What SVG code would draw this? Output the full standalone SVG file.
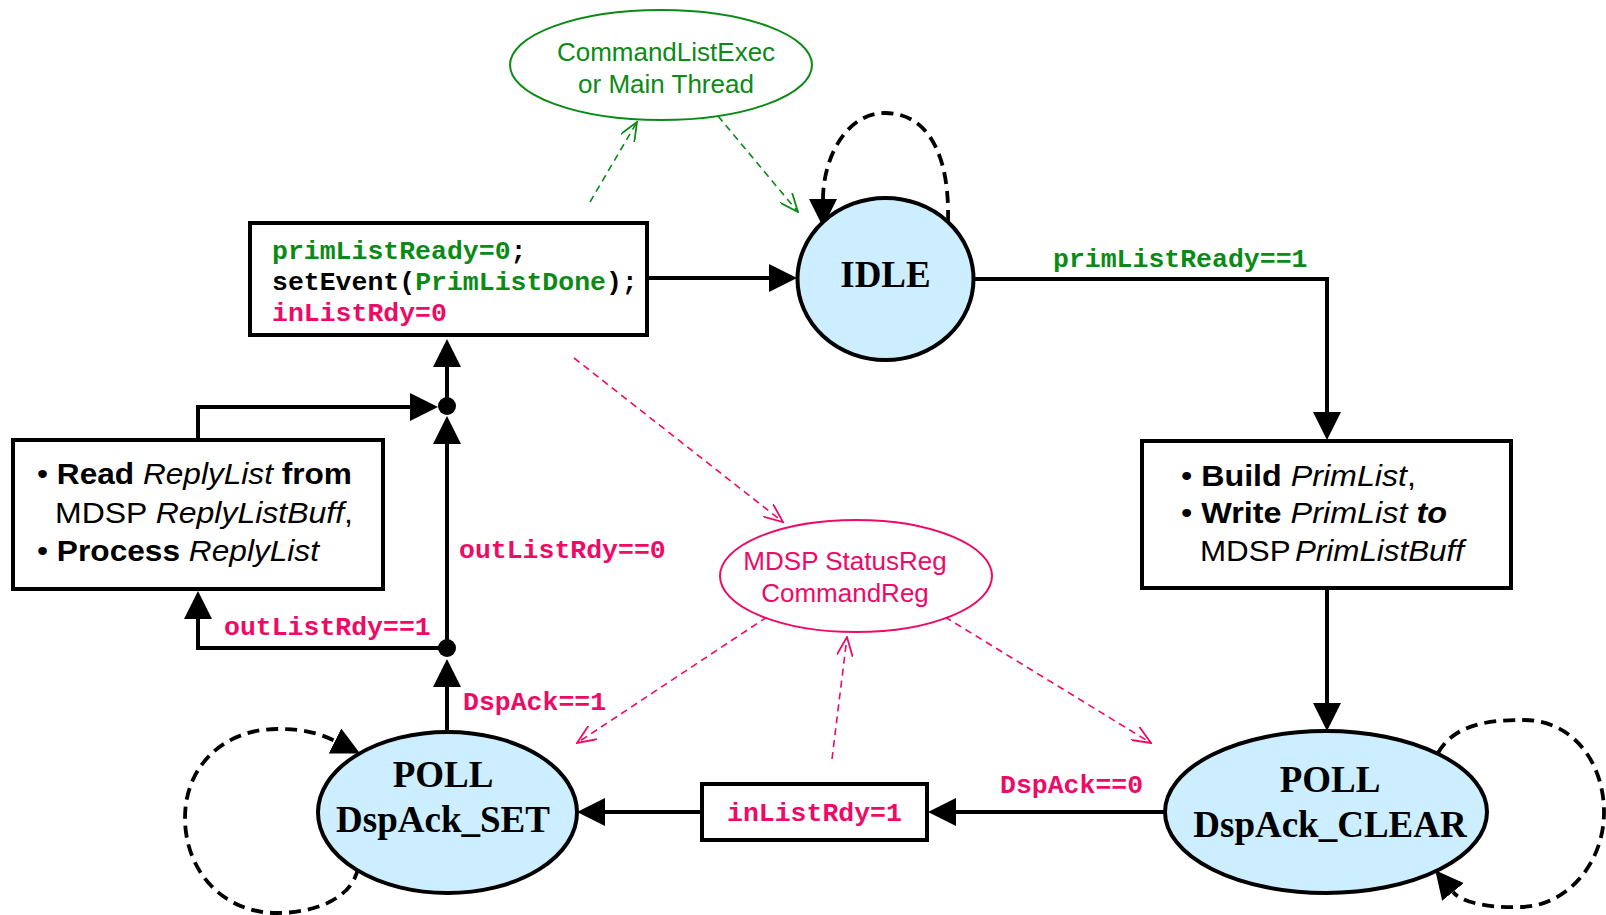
<svg xmlns="http://www.w3.org/2000/svg" width="1606" height="915" viewBox="0 0 1606 915">
  <style>
    .bg { fill: #ffffff; }
    .box { fill: #ffffff; stroke: #000000; stroke-width: 4; }
    .state { fill: #cdeeff; stroke: #000000; stroke-width: 4; }
    .note-g { fill: #ffffff; stroke: #0b8a16; stroke-width: 2; }
    .note-p { fill: #ffffff; stroke: #ee0a66; stroke-width: 2; }
    .wire { fill: none; stroke: #000000; stroke-width: 4; }
    .loop { fill: none; stroke: #000000; stroke-width: 3.8; stroke-dasharray: 12 7; }
    .dash-g { fill: none; stroke: #0b8a16; stroke-width: 1.6; stroke-dasharray: 7 5; }
    .dash-p { fill: none; stroke: #ee0a66; stroke-width: 1.6; stroke-dasharray: 7 5; }
    .mono { font-family: "Liberation Mono", "Courier New", monospace; font-weight: bold; font-size: 26.5px; }
    .sans { font-family: "Liberation Sans", Arial, sans-serif; font-size: 29px; fill: #000000; }
    .serif { font-family: "Liberation Serif", "Times New Roman", serif; font-weight: bold; font-size: 37px; fill: #000000; text-anchor: middle; }
    .note { font-family: "Liberation Sans", Arial, sans-serif; font-size: 26px; text-anchor: middle; }
    .g { fill: #0b8a16; }
    .p { fill: #ee0a66; }
    .k { fill: #000000; }
    .b { font-weight: bold; }
    .i { font-style: italic; }
  </style>
  <defs>
    <marker id="arr" viewBox="0 0 28 28" markerWidth="28" markerHeight="28" markerUnits="userSpaceOnUse" refX="0" refY="14" orient="auto">
      <path d="M0,0 L28,14 L0,28 z" fill="#000000"/>
    </marker>
    <marker id="open-g" viewBox="0 0 20 16" markerWidth="20" markerHeight="16" markerUnits="userSpaceOnUse" refX="19" refY="8" orient="auto">
      <path d="M0,0 L19,8 L0,16" fill="none" stroke="#0b8a16" stroke-width="1.8"/>
    </marker>
    <marker id="open-p" viewBox="0 0 20 16" markerWidth="20" markerHeight="16" markerUnits="userSpaceOnUse" refX="19" refY="8" orient="auto">
      <path d="M0,0 L19,8 L0,16" fill="none" stroke="#ee0a66" stroke-width="1.8"/>
    </marker>
  </defs>

  <rect class="bg" x="0" y="0" width="1606" height="915"/>

  <!-- transitions and junctions -->
  <g id="connectors">
    <path class="wire" d="M647,278 H769" marker-end="url(#arr)"/>
    <path class="wire" d="M974,279 H1327 V412" marker-end="url(#arr)"/>
    <path class="wire" d="M1327,588 V703" marker-end="url(#arr)"/>
    <path class="wire" d="M1165,812 H956" marker-end="url(#arr)"/>
    <path class="wire" d="M702,812 H605" marker-end="url(#arr)"/>
    <path class="wire" d="M447,732 V687" marker-end="url(#arr)"/>
    <path class="wire" d="M447,648 H198 V619" marker-end="url(#arr)"/>
    <path class="wire" d="M447,648 V444" marker-end="url(#arr)"/>
    <path class="wire" d="M198,440 V407 H410" marker-end="url(#arr)"/>
    <path class="wire" d="M447,406 V367" marker-end="url(#arr)"/>
    <circle cx="447" cy="648" r="9" fill="#000000"/>
    <circle cx="447" cy="406" r="9" fill="#000000"/>

    <!-- self loops -->
    <path class="loop" d="M948,222 C950,150 925,113 885,113 C845,113 823,160 823,199" marker-end="url(#arr)"/>
    <path class="loop" d="M1438,753 C1455,722 1495,720 1523,720 C1575,720 1604,765 1604,812 C1604,865 1565,907 1520,907 C1490,908 1462,903 1453,892" marker-end="url(#arr)"/>
    <path class="loop" d="M358,868 C352,900 312,913 277,913 C222,913 185,870 185,818 C185,765 225,729 277,729 C295,729 313,730 335,741" marker-end="url(#arr)"/>

    <!-- thread and register access -->
    <path class="dash-g" d="M590,202 L637,122" marker-end="url(#open-g)"/>
    <path class="dash-g" d="M718,116 L798,212" marker-end="url(#open-g)"/>
    <path class="dash-p" d="M574,358 L783,522" marker-end="url(#open-p)"/>
    <path class="dash-p" d="M767,617 L577,743" marker-end="url(#open-p)"/>
    <path class="dash-p" d="M945,617 L1151,743" marker-end="url(#open-p)"/>
    <path class="dash-p" d="M832,759 L847,637" marker-end="url(#open-p)"/>

    <!-- transition labels -->
    <text class="mono g" x="1053" y="267">primListReady==1</text>
    <text class="mono p" x="459" y="558">outListRdy==0</text>
    <text class="mono p" x="224" y="635">outListRdy==1</text>
    <text class="mono p" x="463" y="710">DspAck==1</text>
    <text class="mono p" x="1000" y="793">DspAck==0</text>
  </g>

  <g id="thread-note">
    <ellipse class="note-g" cx="661" cy="65" rx="151" ry="55"/>
    <text class="note g" x="666" y="61">CommandListExec</text>
    <text class="note g" x="666" y="93">or Main Thread</text>
  </g>

  <g id="register-note">
    <ellipse class="note-p" cx="856" cy="576" rx="136" ry="56"/>
    <text class="note p" x="845" y="570">MDSP StatusReg</text>
    <text class="note p" x="845" y="602">CommandReg</text>
  </g>

  <g id="done-action">
    <rect class="box" x="250" y="223" width="397" height="112"/>
    <text class="mono" x="272" y="259"><tspan class="g">primListReady=0</tspan><tspan class="k">;</tspan></text>
    <text class="mono" x="272" y="290"><tspan class="k">setEvent(</tspan><tspan class="g">PrimListDone</tspan><tspan class="k">);</tspan></text>
    <text class="mono p" x="272" y="321">inListRdy=0</text>
  </g>

  <g id="idle">
    <ellipse class="state" cx="885.5" cy="279" rx="88" ry="81"/>
    <text class="serif" x="885.5" y="287">IDLE</text>
  </g>

  <g id="build-action">
    <rect class="box" x="1142" y="441" width="369" height="147"/>
    <text class="sans" x="1181" y="486" textLength="235" lengthAdjust="spacingAndGlyphs">• <tspan class="b">Build</tspan> <tspan class="i">PrimList</tspan>,</text>
    <text class="sans" x="1181" y="523" textLength="266" lengthAdjust="spacingAndGlyphs">• <tspan class="b">Write</tspan> <tspan class="i">PrimList</tspan> <tspan class="b i">to</tspan></text>
    <text class="sans" x="1200" y="561" textLength="264" lengthAdjust="spacingAndGlyphs">MDSP<tspan class="i" dx="4">PrimListBuff</tspan></text>
  </g>

  <g id="poll-clear">
    <ellipse class="state" cx="1326" cy="812" rx="161" ry="81"/>
    <text class="serif" x="1330" y="792">POLL</text>
    <text class="serif" x="1330" y="837">DspAck_CLEAR</text>
  </g>

  <g id="set-action">
    <rect class="box" x="702" y="784" width="225" height="56"/>
    <text class="mono p" x="727" y="821">inListRdy=1</text>
  </g>

  <g id="poll-set">
    <ellipse class="state" cx="447.5" cy="812.5" rx="129.5" ry="80.5"/>
    <text class="serif" x="443" y="787">POLL</text>
    <text class="serif" x="443" y="832">DspAck_SET</text>
  </g>

  <g id="reply-action">
    <rect class="box" x="13" y="440" width="370" height="149"/>
    <text class="sans" x="37" y="484" textLength="315" lengthAdjust="spacingAndGlyphs">• <tspan class="b">Read</tspan> <tspan class="i">ReplyList</tspan> <tspan class="b">from</tspan></text>
    <text class="sans" x="55" y="523" textLength="298" lengthAdjust="spacingAndGlyphs">MDSP <tspan class="i">ReplyListBuff</tspan>,</text>
    <text class="sans" x="37" y="561" textLength="282" lengthAdjust="spacingAndGlyphs">• <tspan class="b">Process</tspan> <tspan class="i">ReplyList</tspan></text>
  </g>
</svg>
